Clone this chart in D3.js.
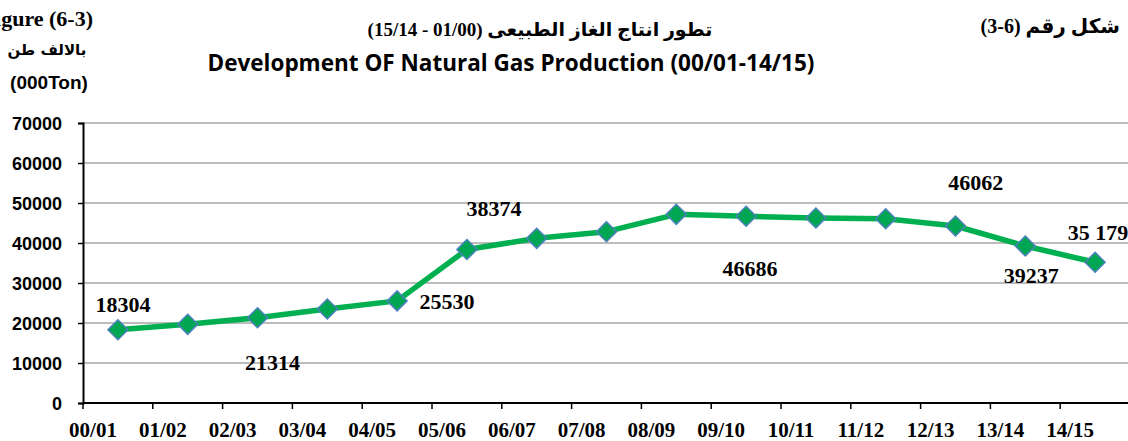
<!DOCTYPE html>
<html>
<head>
<meta charset="utf-8">
<script src="https://cdn.jsdelivr.net/npm/d3@7"></script>
<style>
  body { margin: 0; background: #fff; }
  svg { display: block; }
</style>
</head>
<body>
<script>
// data
var years = ["00/01","01/02","02/03","03/04","04/05","05/06","06/07","07/08",
             "08/09","09/10","10/11","11/12","12/13","13/14","14/15"];
var production = [18304, 19670, 21314, 23500, 25530, 38374, 41170, 42830,
                  47170, 46686, 46250, 46062, 44250, 39237, 35179];
var yTicks = [0, 10000, 20000, 30000, 40000, 50000, 60000, 70000];
// labels printed next to some points (index into the series, shown text)
var pointLabels = [
  {i: 0, text: "18304"}, {i: 2, text: "21314"}, {i: 4, text: "25530"},
  {i: 5, text: "38374"}, {i: 9, text: "46686"}, {i: 11, text: "46062"},
  {i: 13, text: "39237"}, {i: 14, text: "35 179"}
];
// where each label sits relative to its point
var labelOffsets = {0: [5, -18], 2: [15, 52], 4: [50, 8], 5: [27, -34],
                    9: [4, 60], 11: [90, -29], 13: [6, 37], 14: [3, -22]};

var width = 1128, height = 441;
var svgContainer = d3.select("body").append("svg")
	.attr("width", width)
	.attr("height", height);

var plotLeft = 83, plotRight = 1130, plotTop = 123, plotBottom = 403;

var x = d3.scaleBand().domain(years).range([plotLeft, plotRight]);
var y = d3.scaleLinear().domain([0, 70000]).range([plotBottom, plotTop]);

// gridlines
svgContainer.selectAll(".grid").data(yTicks.slice(1)).enter().append("line")
	.attr("class", "grid")
	.attr("x1", plotLeft).attr("x2", width)
	.attr("y1", function(d){ return y(d); })
	.attr("y2", function(d){ return y(d); })
	.style("stroke", "#a6a6a6")
	.style("stroke-width", 1.5);

// y axis
var yAxis = d3.axisLeft(y).tickValues(yTicks).tickSize(5).tickFormat(d3.format("d"));
var gy = svgContainer.append("g").attr("transform", "translate(" + plotLeft + ",0)").call(yAxis);
gy.select(".domain").attr("stroke", "#000").attr("stroke-width", 2);
gy.selectAll(".tick line").attr("stroke", "#000").attr("stroke-width", 1.5);
gy.selectAll(".tick text")
	.attr("x", -21)
	.attr("dy", "0.35em")
	.attr("fill", "#000")
	.style("font-family", "'Liberation Sans', Arial, sans-serif")
	.style("font-weight", "bold")
	.style("font-size", "18px");

// x axis: ticks on band edges
var gx = svgContainer.append("g").attr("transform", "translate(0," + plotBottom + ")");
gx.append("line")
	.attr("x1", plotLeft).attr("x2", width)
	.attr("y1", 0).attr("y2", 0)
	.style("stroke", "#000").style("stroke-width", 2);
gx.selectAll(".xtick").data(years).enter().append("line")
	.attr("class", "xtick")
	.attr("x1", function(d){ return x(d); })
	.attr("x2", function(d){ return x(d); })
	.attr("y1", 0).attr("y2", 6)
	.style("stroke", "#000").style("stroke-width", 1.5);
gx.selectAll(".xlabel").data(years).enter().append("text")
	.attr("class", "xlabel")
	.attr("x", function(d){ return x(d) + 10; })
	.attr("y", 34)
	.style("text-anchor", "middle")
	.style("font-family", "'Liberation Serif', 'Times New Roman', serif")
	.style("font-weight", "bold")
	.style("font-size", "21px")
	.text(function(d){ return d; });

// line
var cx = function(d, i){ return x(years[i]) + x.bandwidth() / 2; };
var line = d3.line()
	.x(cx)
	.y(function(d){ return y(d); });

svgContainer.append("path")
	.datum(production)
	.attr("d", line)
	.attr("fill", "none")
	.style("stroke", "#00b050")
	.style("stroke-width", 5.5)
	.style("stroke-linejoin", "round");

// diamond markers
svgContainer.selectAll(".marker").data(production).enter().append("path")
	.attr("class", "marker")
	.attr("d", function(d, i){
		var px = cx(d, i), py = y(d), r = 10;
		return "M" + px + "," + (py - r) + "L" + (px + r) + "," + py +
		       "L" + px + "," + (py + r) + "L" + (px - r) + "," + py + "Z";
	})
	.attr("fill", "#00a651")
	.style("stroke", "#4f81bd")
	.style("stroke-width", 1.5);

// value labels
svgContainer.selectAll(".vlabel").data(pointLabels).enter().append("text")
	.attr("class", "vlabel")
	.attr("x", function(d){ return cx(production[d.i], d.i) + labelOffsets[d.i][0]; })
	.attr("y", function(d){ return y(production[d.i]) + labelOffsets[d.i][1]; })
	.style("text-anchor", "middle")
	.style("font-family", "'Liberation Serif', 'Times New Roman', serif")
	.style("font-weight", "bold")
	.style("font-size", "22px")
	.text(function(d){ return d.text; });

// titles
svgContainer.append("text")
	.attr("x", 540).attr("y", 36)
	.attr("direction", "rtl")
	.style("text-anchor", "middle")
	.style("font-family", "'Liberation Serif', 'DejaVu Sans', serif")
	.style("font-weight", "bold")
	.style("font-size", "19px")
	.text("تطور انتاج الغاز الطبيعى (01/00 - 15/14)");

svgContainer.append("text")
	.attr("x", 511).attr("y", 71)
	.style("text-anchor", "middle")
	.style("font-family", "'Open Sans', sans-serif")
	.style("font-weight", "bold")
	.style("font-size", "22.5px")
	.text("Development OF Natural Gas Production (00/01-14/15)");

// visual order written out in an LTR run: "(3-6)" left of the Arabic words
svgContainer.append("text")
	.attr("x", 1120).attr("y", 33)
	.style("text-anchor", "end")
	.style("font-family", "'Liberation Serif', 'DejaVu Sans', serif")
	.style("font-weight", "bold")
	.style("font-size", "20px")
	.text("(3-6) شكل رقم");

svgContainer.append("text")
	.attr("x", 93).attr("y", 26)
	.style("text-anchor", "end")
	.style("font-family", "'Liberation Serif', 'Times New Roman', serif")
	.style("font-weight", "bold")
	.style("font-size", "22px")
	.text("Figure (6-3)");

svgContainer.append("text")
	.attr("x", 47).attr("y", 55)
	.attr("direction", "rtl")
	.style("text-anchor", "middle")
	.style("font-family", "'DejaVu Sans', sans-serif")
	.style("font-weight", "bold")
	.style("font-size", "15px")
	.text("بالالف طن");

svgContainer.append("text")
	.attr("x", 49).attr("y", 89)
	.style("text-anchor", "middle")
	.style("font-family", "'Liberation Sans', Arial, sans-serif")
	.style("font-weight", "bold")
	.style("font-size", "19px")
	.text("(000Ton)");
</script>
</body>
</html>
